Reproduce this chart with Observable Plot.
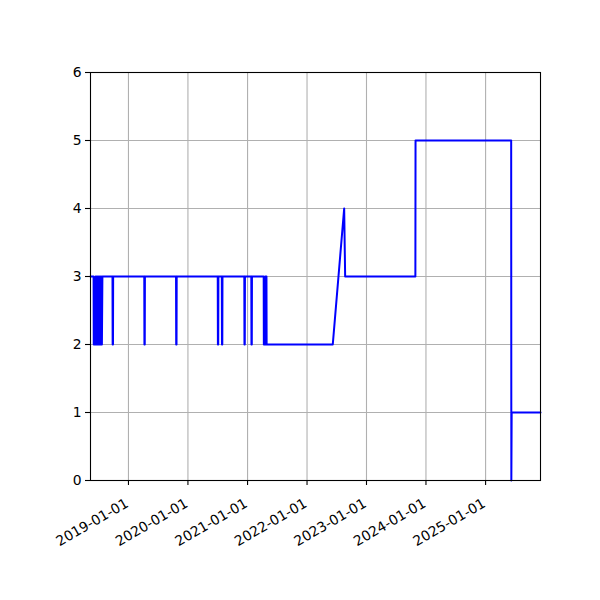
<!DOCTYPE html>
<html>
<head>
<meta charset="utf-8">
<script src="https://cdn.jsdelivr.net/npm/d3@7"></script>
<script src="https://cdn.jsdelivr.net/npm/@observablehq/plot@0.6"></script>
<style>
  html, body { margin: 0; padding: 0; background: #fff; }
  #chart { width: 600px; height: 600px; }
</style>
</head>
<body>
<div id="chart"></div>
<script>
const dates = [
  "2018-05-13","2018-06-01","2018-06-02","2018-06-12","2018-06-13",
  "2018-06-16","2018-06-19","2018-06-22","2018-06-25","2018-06-28",
  "2018-07-01","2018-07-04","2018-07-07","2018-07-10","2018-07-13",
  "2018-07-16","2018-07-19","2018-07-22","2018-07-25",
  "2018-09-25","2018-09-26","2018-09-28","2018-09-29",
  "2019-04-08","2019-04-09","2019-04-11","2019-04-12",
  "2019-10-20","2019-10-21","2019-10-23","2019-10-24",
  "2020-07-02","2020-07-03","2020-07-05","2020-07-06",
  "2020-07-27","2020-07-28","2020-07-30","2020-07-31",
  "2020-12-12","2020-12-13","2020-12-15","2020-12-16",
  "2021-01-24","2021-01-25","2021-01-27","2021-01-28",
  "2021-04-10","2021-04-11","2021-04-19","2021-04-20",
  "2021-04-27","2021-04-28",
  "2022-06-08","2022-08-17","2022-08-23",
  "2023-10-28","2023-10-29",
  "2025-06-07","2025-06-08","2025-06-10","2025-12-04"
];
const values = [
  3,3,2,2,3,
  2,3,2,3,2,
  3,2,3,2,3,
  2,3,2,3,
  3,2,2,3,
  3,2,2,3,
  3,2,2,3,
  3,2,2,3,
  3,2,2,3,
  3,2,2,3,
  3,2,2,3,
  3,2,2,3,
  3,2,
  2,4,3,
  3,5,
  5,0,1,1
];
const yTicks = [0,1,2,3,4,5,6];
const xTicks = ["2019-01-01","2020-01-01","2021-01-01","2022-01-01","2023-01-01","2024-01-01","2025-01-01"];

const data = dates.map((d, i) => ({date: new Date(d + "T00:00:00Z"), value: values[i]}));
const xTickDates = xTicks.map(d => new Date(d + "T00:00:00Z"));
const fmt = d3.utcFormat("%Y-%m-%d");

const chart = Plot.plot({
  width: 600,
  height: 600,
  marginLeft: 90,
  marginRight: 60,
  marginTop: 72,
  marginBottom: 120,
  style: {fontFamily: "DejaVu Sans", fontSize: "13.9px", color: "black", background: "white"},
  x: {type: "utc", domain: [data[0].date, data[data.length - 1].date]},
  y: {domain: [0, 6]},
  marks: [
    Plot.gridX(xTickDates, {stroke: "#b0b0b0", strokeOpacity: 1, strokeWidth: 1.1}),
    Plot.gridY(yTicks, {stroke: "#b0b0b0", strokeOpacity: 1, strokeWidth: 1.1}),
    Plot.line(data, {x: "date", y: "value", stroke: "#0000ff", strokeWidth: 2}),
    Plot.frame({stroke: "black", strokeWidth: 1.1}),
    Plot.axisY(yTicks, {tickSize: 5, tickPadding: 4, fontSize: 13.9, tickFormat: d3.format("d"), label: null, strokeWidth: 1.1}),
    Plot.axisX(xTickDates, {tickSize: 5, tickFormat: () => "", label: null, strokeWidth: 1.1}),
    Plot.text(xTickDates, {x: d => d, text: d => fmt(d), frameAnchor: "bottom", rotate: -30, textAnchor: "end", lineAnchor: "top", dx: -4, dy: 17, fontSize: 13.9, fill: "black"})
  ]
});
document.getElementById("chart").appendChild(chart);
</script>
</body>
</html>
